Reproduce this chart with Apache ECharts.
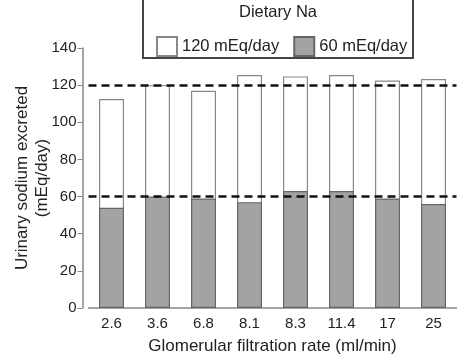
<!DOCTYPE html>
<html>
<head>
<meta charset="utf-8">
<script src="https://cdn.jsdelivr.net/npm/echarts@6/dist/echarts.min.js"></script>
<style>
html, body { margin: 0; padding: 0; background: #fff; }
#main { width: 459px; height: 355px; }
</style>
</head>
<body>
<div id="main"></div>
<script>
var gfr = ['2.6', '3.6', '6.8', '8.1', '8.3', '11.4', '17', '25'];
var na120 = [112.5, 120, 117, 125.5, 124.7, 125.5, 122.5, 123.3];
var na60 = [54, 60, 59, 57, 63, 63, 59, 56];
var refLines = [60, 120];

var font = 'Liberation Sans, Arial, sans-serif';

var getOption = function() {
	return {
		animation: false,
		textStyle: { fontFamily: font },
		grid: {
			left: 88.5,
			right: 2.5,
			top: 48,
			bottom: 47,
			outerBoundsMode: 'none',
			containLabel: false
		},
		graphic: [{
			type: 'rect',
			shape: { x: 143, y: -3, width: 270, height: 61 },
			style: { fill: '#fff', stroke: '#444', lineWidth: 2 },
			z: -1
		}, {
			type: 'text',
			x: 278,
			y: 12,
			style: {
				text: 'Dietary Na',
				fill: '#222',
				font: '16.5px ' + font,
				align: 'center',
				verticalAlign: 'middle'
			}
		}],
		legend: {
			left: 151,
			top: 31,
			itemWidth: 20,
			itemHeight: 19,
			itemGap: 14,
			icon: 'rect',
			textStyle: { fontSize: 16.5, color: '#222' },
			data: ['120 mEq/day', '60 mEq/day']
		},
		xAxis: {
			type: 'category',
			data: gfr,
			name: 'Glomerular filtration rate (ml/min)',
			nameLocation: 'middle',
			nameGap: 30,
			nameMoveOverlap: false,
			nameTextStyle: { fontSize: 17, color: '#222' },
			axisLine: { lineStyle: { color: '#888', width: 1.5 } },
			axisTick: { show: false },
			axisLabel: { fontSize: 15, color: '#222', margin: 8 }
		},
		yAxis: {
			type: 'value',
			min: 0,
			max: 140,
			interval: 20,
			offset: 6,
			name: 'Urinary sodium excreted\n(mEq/day)',
			nameLocation: 'middle',
			nameGap: 30,
			nameMoveOverlap: false,
			nameTextStyle: { fontSize: 17, color: '#222', lineHeight: 20 },
			axisLine: { show: true, lineStyle: { color: '#888', width: 1.5 } },
			axisTick: { show: true, length: 5, lineStyle: { color: '#888' } },
			axisLabel: { fontSize: 15, color: '#222', margin: 6 },
			splitLine: { show: false }
		},
		series: [{
			name: '120 mEq/day',
			type: 'bar',
			data: na120,
			barWidth: 25,
			barGap: '-100%',
			itemStyle: { color: '#fff', borderColor: '#888', borderWidth: 1.2 },
			markLine: {
				silent: true,
				symbol: 'none',
				label: { show: false },
				lineStyle: { color: '#111', type: [8, 5], width: 2.5 },
				data: refLines.map(function(v) { return { yAxis: v }; }),
				z: 10
			}
		}, {
			name: '60 mEq/day',
			type: 'bar',
			data: na60,
			barWidth: 25,
			itemStyle: { color: '#a3a3a3', borderColor: '#666', borderWidth: 1.2 }
		}]
	};
};

var chart = echarts.init(document.getElementById('main'));
chart.setOption(getOption());
</script>
</body>
</html>
